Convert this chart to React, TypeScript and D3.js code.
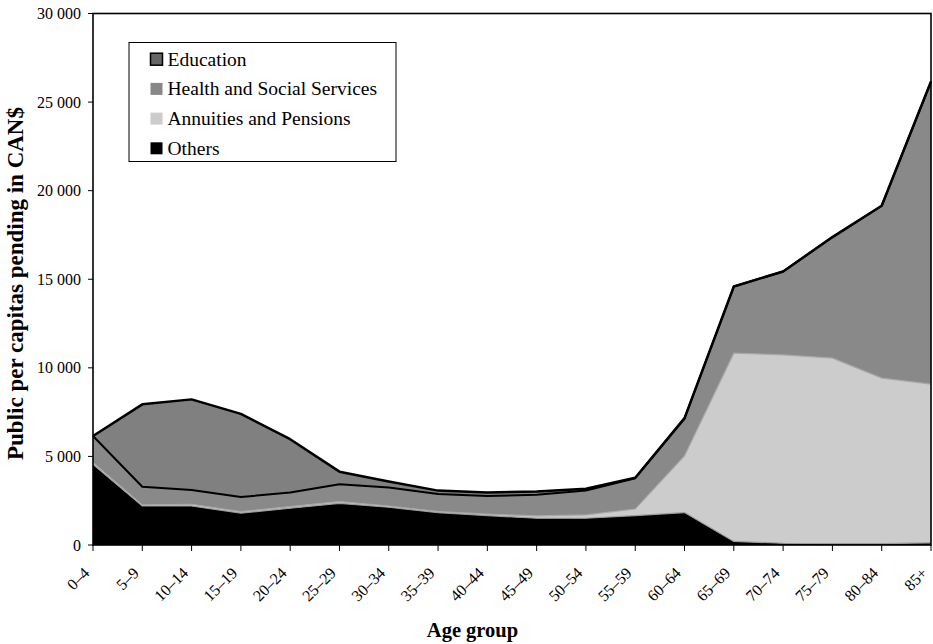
import React from "react";
import * as d3 from "d3";

const categories = ["0–4", "5–9", "10–14", "15–19", "20–24", "25–29", "30–34", "35–39", "40–44", "45–49", "50–54", "55–59", "60–64", "65–69", "70–74", "75–79", "80–84", "85+"];
const others = [4550, 2200, 2200, 1800, 2080, 2350, 2130, 1830, 1660, 1510, 1510, 1660, 1830, 200, 100, 80, 80, 120];
const annuities = [100, 60, 100, 80, 90, 100, 70, 60, 80, 130, 190, 370, 3200, 10630, 10630, 10470, 9340, 8960];
const health = [1500, 1030, 800, 830, 790, 980, 1040, 990, 1030, 1190, 1380, 1740, 2110, 3760, 4710, 6830, 9730, 17080];
const education = [0, 4650, 5120, 4690, 3010, 710, 340, 190, 190, 190, 90, 30, 20, 0, 0, 0, 0, 0];
const yTicks = [0, 5000, 10000, 15000, 20000, 25000, 30000];

const seriesKeys = ["others", "annuities", "health", "education"];
const legendItems = [
  { label: "Education", fill: "#666666", stroke: "#000000" },
  { label: "Health and Social Services", fill: "#888888", stroke: "none" },
  { label: "Annuities and Pensions", fill: "#cccccc", stroke: "none" },
  { label: "Others", fill: "#000000", stroke: "none" },
];

const W = 933;
const H = 644;
const left = 93;
const right = 931;
const top = 13.5;
const bottom = 545;
const font = "'Liberation Serif', 'Times New Roman', serif";

export default function App() {
  const data = categories.map((c, i) => ({
    cat: c,
    others: others[i],
    annuities: annuities[i],
    health: health[i],
    education: education[i],
  }));
  const stack = d3.stack<any>().keys(seriesKeys);
  const layers = stack(data);

  const x = d3.scalePoint<string>().domain(categories).range([left, right]);
  const y = d3.scaleLinear().domain([0, 30000]).range([bottom, top]);

  const area = d3
    .area<any>()
    .x((d) => x(d.data.cat) as number)
    .y0((d) => y(d[0]))
    .y1((d) => y(d[1]));
  const topLine = d3
    .line<any>()
    .x((d) => x(d.data.cat) as number)
    .y((d) => y(d[1]));
  const bottomLine = d3
    .line<any>()
    .x((d) => x(d.data.cat) as number)
    .y((d) => y(d[0]));

  const fills: Record<string, string> = {
    others: "#000000",
    annuities: "#cccccc",
    health: "#898989",
    education: "#808080",
  };

  const fmt = d3.formatLocale({ decimal: ".", thousands: " ", grouping: [3], currency: ["", ""] }).format(",");

  const byKey: Record<string, any> = {};
  layers.forEach((l) => (byKey[l.key] = l));

  return (
    <svg width={W} height={H} style={{ position: "absolute", left: 0, top: 0, background: "#fff" }}>
      {layers.map((l) => (
        <path key={l.key} d={area(l as any) as string} fill={fills[l.key]} stroke="none" />
      ))}
      <path d={topLine(byKey.others) as string} fill="none" stroke="#9a9a9a" strokeWidth={1.2} />
      <path d={topLine(byKey.annuities) as string} fill="none" stroke="#a8a8a8" strokeWidth={1.2} />
      <path d={bottomLine(byKey.education) as string} fill="none" stroke="#000" strokeWidth={2} strokeLinejoin="round" />
      <path d={topLine(byKey.education) as string} fill="none" stroke="#000" strokeWidth={2.5} strokeLinejoin="round" />

      {/* plot frame */}
      <rect x={left} y={top} width={right - left} height={bottom - top} fill="none" stroke="#000" strokeWidth={1.6} />

      {/* y axis ticks */}
      {yTicks.map((t) => (
        <g key={t}>
          <line x1={left - 5} x2={left} y1={y(t)} y2={y(t)} stroke="#000" strokeWidth={1} />
          <text x={left - 12} y={y(t)} dy="0.35em" textAnchor="end" fontFamily={font} fontSize={16} fill="#000">
            {fmt(t)}
          </text>
        </g>
      ))}

      {/* x axis ticks */}
      {categories.map((c) => {
        const px = x(c) as number;
        return (
          <g key={c}>
            <line x1={px} x2={px} y1={bottom} y2={bottom + 6} stroke="#000" strokeWidth={1} />
            <text
              transform={`translate(${px - 2.5},${bottom + 29}) rotate(-45)`}
              textAnchor="end"
              fontFamily={font}
              fontSize={16}
              fill="#000"
            >
              {c}
            </text>
          </g>
        );
      })}

      {/* axis titles */}
      <text x={472.5} y={637} textAnchor="middle" fontFamily={font} fontSize={20.5} fontWeight="bold" fill="#000">
        Age group
      </text>
      <text
        transform={`translate(22.5,283.5) rotate(-90)`}
        textAnchor="middle"
        fontFamily={font}
        fontSize={23}
        fontWeight="bold"
        fill="#000"
      >
        Public per capitas pending in CAN$
      </text>

      {/* legend */}
      <rect x={129} y={42.5} width={267} height={119} fill="#fff" stroke="#000" strokeWidth={1} />
      {legendItems.map((it, i) => {
        const base = 65.7 + i * 29.7;
        return (
          <g key={it.label}>
            <rect
              x={150.5}
              y={base - 12.5}
              width={12}
              height={12}
              fill={it.fill}
              stroke={it.stroke}
              strokeWidth={it.stroke === "none" ? 0 : 1.5}
            />
            <text x={167.5} y={base} fontFamily={font} fontSize={19.5} fill="#000">
              {it.label}
            </text>
          </g>
        );
      })}
    </svg>
  );
}
